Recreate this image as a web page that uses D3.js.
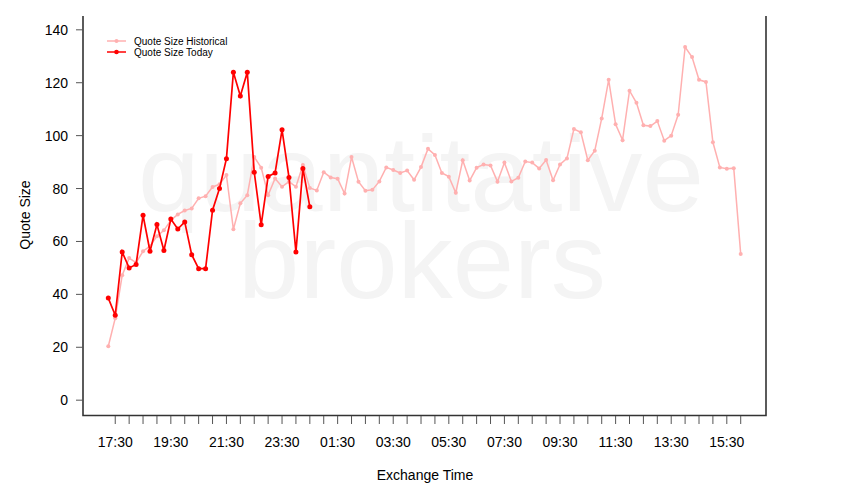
<!DOCTYPE html>
<html>
<head>
<meta charset="utf-8">
<script src="https://cdn.jsdelivr.net/npm/d3@7"></script>
<style>
  body { margin: 0; background: #fff; }
  text { font-family: "Liberation Sans", Arial, sans-serif; }
</style>
</head>
<body>
<div id="chart"></div>
<script>
// quote size per 15 min bucket, starting 17:15
var historical = [20.4, 31, 47.2, 53.7, 52, 56.3, 58.2, 62, 64.2, 68, 70.2, 71.7, 72.5, 76.3, 77.1, 80.6,
    81.6, 85.1, 64.6, 74.4, 77.5, 91.9, 87.9, 77.5, 83.8, 80.7, 82.6, 80.7, 88.9, 80.2,
    79.3, 86.2, 84.2, 83.7, 78.1, 91.9, 82.6, 79.2, 79.5, 82.7, 88, 87, 85.9, 86.8,
    83.3, 88.1, 95, 92.7, 85.9, 84.5, 78.4, 90.7, 83, 87.9, 89.1, 88.7, 82.6, 89.8,
    82.7, 84.1, 90.2, 89.8, 87.6, 90.8, 83.1, 89.1, 91.4, 102.5, 101.3, 90.7, 94.3,
    106.5, 121.1, 104.3, 98.3, 117, 112.4, 103.9, 103.6, 105.5, 98.1, 100, 107.9,
    133.5, 129.7, 121.1, 120.3, 97.5, 88, 87.5, 87.7, 55.3];
var today = [38.6, 32.1, 56, 50, 51.3, 69.9, 56.3, 66.4, 56.6, 68.5, 64.7, 67.4, 55, 49.7, 49.7,
    71.8, 80, 91.3, 124, 115, 124, 86.2, 66.3, 84.6, 85.9, 102.2, 84.2, 56, 87.6, 73.1];
var yTicks = [0, 20, 40, 60, 80, 100, 120, 140];
var seriesNames = ["Quote Size Historical", "Quote Size Today"];
var seriesColors = ["#ffb0b0", "#ff0000"];

var width = 850, height = 500;
var start = Date.UTC(2020, 0, 1, 17, 15);
var step = 15 * 60 * 1000;
function t(i) { return new Date(start + i * step); }

var svg = d3.select("#chart").append("svg")
    .attr("width", width)
    .attr("height", height);

var t0 = t(0), t1 = t(historical.length - 1);
var pad = (t1 - t0) * 0.04;
var x = d3.scaleUtc()
    .domain([new Date(+t0 - pad), new Date(+t1 + pad)])
    .range([83, 766]);
var y = d3.scaleLinear()
    .domain([-5.6, 145.6])
    .range([415, 15]);

// watermark
svg.append("text")
    .attr("x", 421).attr("y", 211)
    .attr("text-anchor", "middle")
    .attr("font-size", 108)
    .attr("textLength", 566)
    .attr("lengthAdjust", "spacingAndGlyphs")
    .attr("fill", "#f4f4f4")
    .text("quantitative");
svg.append("text")
    .attr("x", 422).attr("y", 298)
    .attr("text-anchor", "middle")
    .attr("font-size", 108)
    .attr("textLength", 368)
    .attr("lengthAdjust", "spacingAndGlyphs")
    .attr("fill", "#f4f4f4")
    .text("brokers");

// frame: left, bottom, right
svg.append("path")
    .attr("d", "M83,16V415.5H766V16")
    .attr("fill", "none")
    .attr("stroke", "#333")
    .attr("stroke-width", 1.6);

// y axis
var yAxis = svg.append("g");
yAxis.selectAll("line").data(yTicks).enter().append("line")
    .attr("x1", 76).attr("x2", 83)
    .attr("y1", function (d) { return y(d); })
    .attr("y2", function (d) { return y(d); })
    .attr("stroke", "#555");
yAxis.selectAll("text").data(yTicks).enter().append("text")
    .attr("x", 68)
    .attr("y", function (d) { return y(d) + 5; })
    .attr("text-anchor", "end")
    .attr("font-size", 14)
    .text(function (d) { return d; });

// x axis ticks every 30 min, labels every 2 h
var xTicks = d3.utcMinute.every(30).range(t(1), new Date(+t1 + 1));
var fmt = d3.utcFormat("%H:%M");
var xAxis = svg.append("g");
xAxis.selectAll("line").data(xTicks).enter().append("line")
    .attr("x1", function (d) { return x(d); })
    .attr("x2", function (d) { return x(d); })
    .attr("y1", 416).attr("y2", 424)
    .attr("stroke", "#555");
xAxis.selectAll("text").data(xTicks.filter(function (d, i) { return i % 4 == 0; }))
    .enter().append("text")
    .attr("x", function (d) { return x(d); })
    .attr("y", 447)
    .attr("text-anchor", "middle")
    .attr("font-size", 14)
    .text(function (d) { return fmt(d); });

svg.append("text")
    .attr("x", 425).attr("y", 480)
    .attr("text-anchor", "middle")
    .attr("font-size", 14)
    .text("Exchange Time");
svg.append("text")
    .attr("transform", "translate(30,215) rotate(-90)")
    .attr("text-anchor", "middle")
    .attr("font-size", 14)
    .text("Quote Size");

var line = d3.line()
    .x(function (d, i) { return x(t(i)); })
    .y(function (d) { return y(d); });

function drawSeries(data, color, r, w) {
    svg.append("path")
        .datum(data)
        .attr("d", line)
        .attr("fill", "none")
        .attr("stroke", color)
        .attr("stroke-width", w);
    svg.append("g").selectAll("circle")
        .data(data)
        .enter()
        .append("circle")
        .attr("cx", function (d, i) { return x(t(i)); })
        .attr("cy", function (d) { return y(d); })
        .attr("r", r)
        .attr("fill", color);
}
drawSeries(historical, seriesColors[0], 2, 1.5);
drawSeries(today, seriesColors[1], 2.5, 1.7);

// legend
var legend = svg.append("g");
seriesNames.forEach(function (name, i) {
    var ly = 41 + i * 11;
    legend.append("line")
        .attr("x1", 107).attr("x2", 126)
        .attr("y1", ly).attr("y2", ly)
        .attr("stroke", seriesColors[i])
        .attr("stroke-width", 1.5);
    legend.append("circle")
        .attr("cx", 116.5).attr("cy", ly)
        .attr("r", i == 0 ? 2 : 2.3)
        .attr("fill", seriesColors[i]);
    legend.append("text")
        .attr("x", 134).attr("y", ly + 3.5)
        .attr("font-size", 10)
        .text(name);
});
</script>
</body>
</html>
